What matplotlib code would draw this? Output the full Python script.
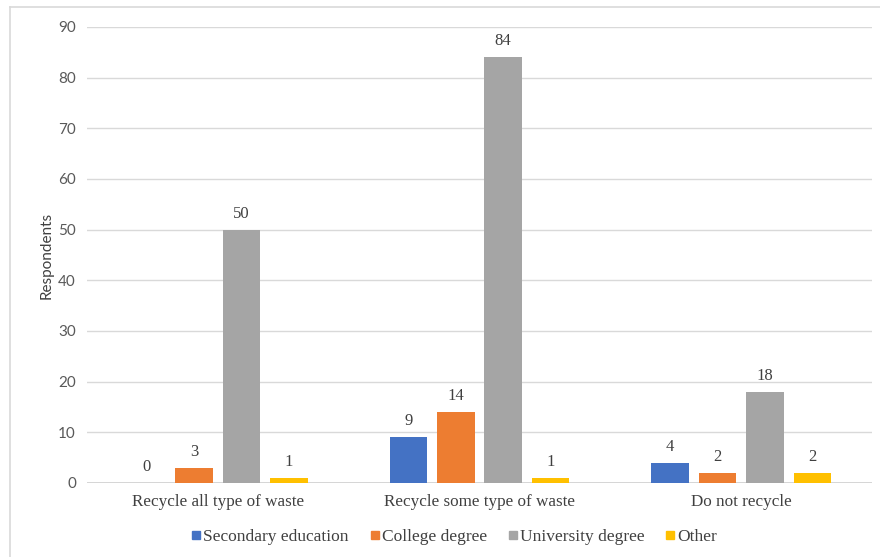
import matplotlib
matplotlib.use("Agg")
import matplotlib.pyplot as plt
from matplotlib.lines import Line2D
import numpy as np

categories = ["Recycle all type of waste", "Recycle some type of waste", "Do not recycle"]
series_names = ["Secondary education", "College degree", "University degree", "Other"]
secondary = [0, 9, 4]
college = [3, 14, 2]
university = [50, 84, 18]
other = [1, 1, 2]
series_values = [secondary, college, university, other]
colors = ["#4472C4", "#ED7D31", "#A5A5A5", "#FFC000"]
yticks = list(range(0, 100, 10))

SERIF = "Liberation Serif"
SANS = "Lato"

fig = plt.figure(figsize=(8.8, 5.57), dpi=100)
ax = fig.add_axes([87 / 880, 1 - 483 / 557, (872 - 87) / 880, (483 - 27) / 557])

x = np.arange(len(categories))
step = 0.181
width = 0.143
for i, (vals, col) in enumerate(zip(series_values, colors)):
    pos = x + (i - 1.5) * step
    ax.bar(pos, vals, width=width, color=col, zorder=3)
    for xb, v in zip(pos, vals):
        ax.text(xb, v + 1.6, str(v), ha="center", va="bottom",
                fontsize=12, family=SERIF, color="#404040")

ax.set_xlim(-0.5, len(categories) - 0.5)
ax.set_ylim(0, 90)
ax.set_yticks(yticks)
ax.set_yticklabels([str(t) for t in yticks], family=SANS, fontsize=11, color="#595959")
ax.set_xticks(x)
ax.set_xticklabels(categories, family=SERIF, fontsize=12.3, color="#404040")
ax.tick_params(axis="both", length=0)
ax.tick_params(axis="y", pad=8)
ax.tick_params(axis="x", pad=8)
ax.grid(axis="y", color="#D9D9D9", linewidth=1, zorder=0)
for s in ax.spines.values():
    s.set_visible(False)
ax.axhline(0, color="#D0D0D0", linewidth=1.2, zorder=2)

ax.set_ylabel("Respondents", family=SANS, fontsize=11, color="#404040", labelpad=3)

handles = [Line2D([0], [0], marker="s", linestyle="none", markersize=6,
                  markerfacecolor=c, markeredgecolor=c) for c in colors]
leg = fig.legend(handles, series_names, loc="center", bbox_to_anchor=(454 / 880, 1 - 537 / 557),
                 ncol=4, frameon=False, prop={"family": SERIF, "size": 12.5},
                 handletextpad=0.1, columnspacing=1.2, handlelength=0.6)
for t in leg.get_texts():
    t.set_color("#404040")

# outer chart frame lines
fig.add_artist(Line2D([10 / 880, 10 / 880], [0, 1 - 7 / 557], transform=fig.transFigure,
                      color="#D9D9D9", linewidth=1.2))
fig.add_artist(Line2D([10 / 880, 1], [1 - 7 / 557, 1 - 7 / 557], transform=fig.transFigure,
                      color="#D9D9D9", linewidth=1.2))

fig.savefig("out.png", dpi=100)
